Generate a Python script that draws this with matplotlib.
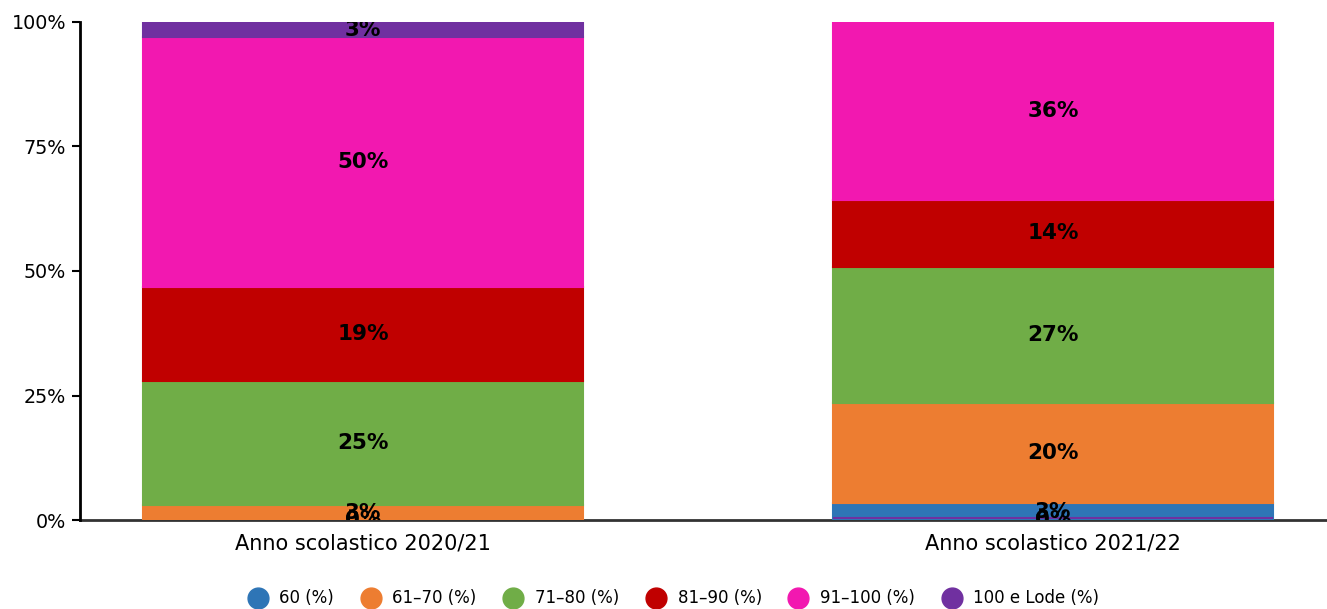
import matplotlib
matplotlib.use('Agg')

import matplotlib.pyplot as plt
from matplotlib.lines import Line2D

years = ['Anno scolastico 2020/21', 'Anno scolastico 2021/22']
series = ['60 (%)', '61-70 (%)', '71-80 (%)', '81-90 (%)', '91-100 (%)', '100 e Lode (%)']
legend_labels = ['60 (%)', '61\u201370 (%)', '71\u201380 (%)', '81\u201390 (%)', '91\u2013100 (%)', '100 e Lode (%)']
colors = ['#2E75B6', '#ED7D31', '#70AD47', '#C00000', '#F218B0', '#7030A0']

v60 = [0.0, 3.4]
v61_70 = [3.0, 20.1]
v71_80 = [24.9, 27.3]
v81_90 = [18.9, 13.5]
v91_100 = [50.1, 35.7]
v_lode = [3.1, 0.0]
values = [v60, v61_70, v71_80, v81_90, v91_100, v_lode]

plt.rcParams['font.family'] = 'DejaVu Sans'

fig = plt.figure(figsize=(13.27, 6.09), dpi=100)
ax = fig.add_axes([80 / 1327, 1 - 520 / 609, 1247 / 1327, 498 / 609])

x = [0, 1]
width = 0.638
cum = [0.0, 0.0]
for name, vals, col in zip(series, values, colors):
    # empty segments sit on the baseline
    bottoms = [c if v > 0 else 0.4 for c, v in zip(cum, vals)]
    ax.bar(x, vals, width, bottom=bottoms, color=col, edgecolor=col, linewidth=1.5)
    for xi, b, v in zip(x, bottoms, vals):
        ax.text(xi, b + v / 2 if v > 0 else 0, '{:.0f}%'.format(v), ha='center', va='center',
                fontsize=15.5, fontweight='bold', color='black', clip_on=True)
    cum = [c + v for c, v in zip(cum, vals)]

ax.set_xlim(-0.41, 1.397)
ax.set_ylim(0, 100)
ax.set_yticks([0, 25, 50, 75, 100])
ax.set_yticklabels(['0%', '25%', '50%', '75%', '100%'], fontsize=13.8)
ax.set_xticks(x)
ax.set_xticklabels(years, fontsize=15)
ax.tick_params(axis='x', length=0, pad=10)
ax.tick_params(axis='y', length=6, width=1.5, direction='out', pad=4)
ax.spines['top'].set_visible(False)
ax.spines['right'].set_visible(False)
ax.spines['left'].set_linewidth(2)
ax.spines['left'].set_color('black')
ax.spines['bottom'].set_linewidth(2)
ax.spines['bottom'].set_color('#333333')
ax.spines['bottom'].set_zorder(0.5)

handles = [Line2D([], [], marker='o', linestyle='', markersize=15,
                  markerfacecolor=c, markeredgecolor=c) for c in colors]
fig.legend(handles, legend_labels, loc='lower center', ncol=6, frameon=False,
           fontsize=12, bbox_to_anchor=(0.505, -0.022), handletextpad=0.3,
           columnspacing=1.2)

fig.savefig('out.png', dpi=100)
